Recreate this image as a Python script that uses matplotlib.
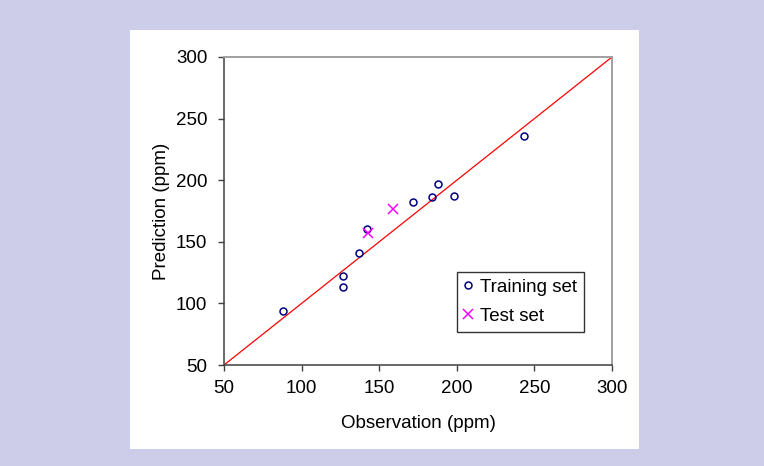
import matplotlib
matplotlib.use("Agg")
import matplotlib.pyplot as plt
from matplotlib.patches import Rectangle

# Observed vs predicted values (ppm)
train_obs = [88, 126.5, 126.5, 137, 142, 172, 184, 188, 198, 243]
train_pred = [94, 122, 113, 141, 160, 182, 186, 197, 187, 236]
test_obs = [143, 159]
test_pred = [157, 177]
diag = [50, 300]
ticks = [50, 100, 150, 200, 250, 300]

plt.rcParams['font.family'] = ['Liberation Sans', 'DejaVu Sans']

fig = plt.figure(figsize=(7.64, 4.66), dpi=100)
fig.patch.set_facecolor('#CDCDEA')
# white panel behind the chart
panel = Rectangle((130 / 764, 1 - 449 / 466), 509 / 764, 419.5 / 466,
                  transform=fig.transFigure, facecolor='white',
                  edgecolor='none', zorder=-10)
fig.add_artist(panel)

ax = fig.add_axes([224 / 764, 1 - 365 / 466, 388 / 764, 308 / 466])
ax.set_facecolor('white')

ax.plot(diag, diag, color='#FF0000', lw=0.9, zorder=2)
ax.plot(train_obs, train_pred, 'o', ls='none', mfc='none', mec='#000080',
        mew=1.1, ms=5, label='Training set', zorder=3, clip_on=False)
ax.plot(test_obs, test_pred, 'x', ls='none', color='#FF00FF',
        mew=1.1, ms=6.5, label='Test set', zorder=4, clip_on=False)

ax.set_xlim(50, 300)
ax.set_ylim(50, 300)
ax.set_xticks(ticks)
ax.set_yticks(ticks)
ax.tick_params(labelsize=13.5, direction='out', length=4, width=1,
               color='#404040', top=False, right=False)
ax.tick_params(axis='x', pad=7)
ax.tick_params(axis='y', pad=8)

for s in ['left', 'bottom']:
    ax.spines[s].set_color('#404040')
    ax.spines[s].set_linewidth(1.1)
for s in ['top', 'right']:
    ax.spines[s].set_color('#A0A0A0')
    ax.spines[s].set_linewidth(1.4)

ax.set_xlabel('Observation (ppm)', fontsize=13.5, labelpad=13)
ax.set_ylabel('Prediction (ppm)', fontsize=13.5, labelpad=4)

leg = ax.legend(loc='upper left', bbox_to_anchor=((457 - 224) / 388, (365 - 272) / 308),
                fontsize=13.5, frameon=True, fancybox=False, handlelength=0.5,
                handletextpad=0.4, borderpad=0.35, labelspacing=0.65,
                borderaxespad=0)
leg.get_frame().set_edgecolor('black')
leg.get_frame().set_linewidth(1.0)

fig.savefig('out.png', dpi=100, facecolor=fig.get_facecolor())
